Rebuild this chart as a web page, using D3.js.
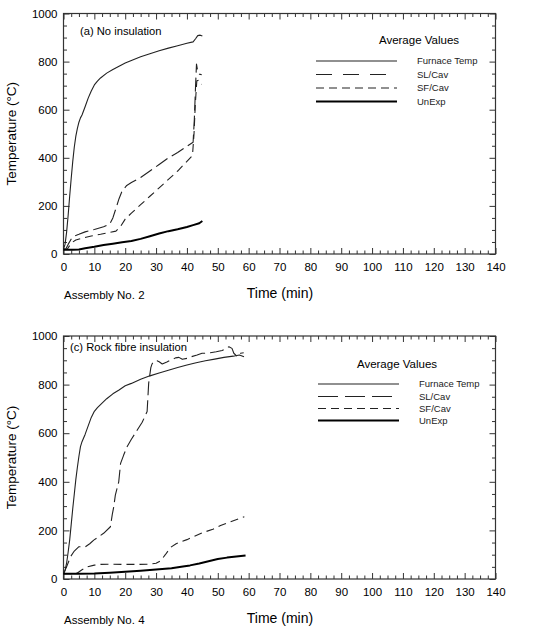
<!DOCTYPE html>
<html>
<head>
<meta charset="utf-8">
<script src="https://cdn.jsdelivr.net/npm/d3@7"></script>
<style>
  html, body { margin: 0; padding: 0; background: #fff; }
  svg { display: block; font-family: "Liberation Sans", Arial, sans-serif; }
</style>
</head>
<body>
<svg id="chart" width="540" height="636"></svg>
<script>
// ---------- DATA ----------
const xTickValues = [0, 10, 20, 30, 40, 50, 60, 70, 80, 90, 100, 110, 120, 130, 140];
const yTickValues = [0, 200, 400, 600, 800, 1000];
const seriesNames = ["Furnace Temp", "SL/Cav", "SF/Cav", "UnExp"];

// Panel (a) No insulation — [time (min), temperature (°C)]
const furnaceA = [[0,20],[0.5,40],[1,90],[1.5,160],[2,240],[2.5,315],[3,385],[3.5,445],[4,490],[4.5,522],[5,548],[5.5,566],[6,578],[7,612],[8,648],[9,678],[10,703],[11,719],[12,732],[14,752],[16,767],[18,781],[20,794],[22,805],[25,820],[28,833],[31,845],[34,856],[37,866],[40,876],[42,882],[42.8,895],[43.5,908],[44.3,910],[45,906]];
const slCavA = [[0,20],[0.7,20],[1.5,40],[2.5,62],[3.5,75],[5,82],[7,92],[10,102],[13,113],[15,125],[16,150],[17,190],[18,230],[19,262],[20.5,285],[22,297],[25,318],[28,345],[31,372],[34,400],[37,422],[40,448],[42,465],[42.4,560],[42.8,700],[43.1,790],[43.5,760],[44,748],[44.8,745]];
const sfCavA = [[0,20],[1.2,20],[2,35],[3,50],[4,58],[6,66],[9,75],[12,82],[15,90],[17,95],[18.5,115],[20,145],[22,170],[25,205],[28,240],[31,275],[34,310],[37,345],[40,385],[41.8,410],[42.3,500],[42.7,620],[43.2,720],[43.8,722],[44.3,712],[44.8,705]];
const unExpA = [[0,18],[3,18],[5,19],[7,24],[10,30],[13,37],[16,43],[19,49],[22,54],[25,63],[28,74],[31,85],[34,95],[37,103],[40,112],[42,120],[44,128],[45,137]];

// Panel (c) Rock fibre insulation
const furnaceC = [[0,22],[0.5,35],[1,65],[1.5,110],[2,160],[2.5,225],[3,290],[3.5,350],[4,410],[4.5,460],[5,505],[5.5,545],[6,565],[7,595],[8,630],[9,665],[10,690],[11,705],[12,718],[14,742],[16,762],[18,778],[20,795],[22,805],[25,822],[28,836],[31,848],[34,859],[37,870],[40,881],[43,890],[46,898],[49,905],[52,912],[55,917],[57,922],[58.5,915]];
const slCavC = [[0,22],[1,50],[2.3,92],[3.5,115],[5,133],[7.1,133],[8.5,145],[9.8,160],[11.5,175],[13,188],[15.2,215],[15.8,265],[16.3,298],[16.8,345],[17.9,400],[18.5,476],[19.5,510],[20.6,544],[22,575],[23.9,613],[25.5,645],[27.1,689],[27.6,805],[28.3,870],[28.7,885],[29.3,896],[30.3,898],[31,894],[32,885],[33.5,893],[34.7,901],[35.5,905],[36.3,910],[37.4,912],[38.5,904],[40.1,908],[41.5,915],[43.3,922],[44.9,929],[46.6,929],[47.6,931],[49.5,935],[51.4,940],[53,950],[53.6,956],[54.6,949],[55.2,929],[56.3,915],[57.4,929],[58.4,931]];
const sfCavC = [[0,22],[3,22],[4.5,25],[6,38],[7.7,50],[10,57],[12,60],[16,61],[20,60],[24,60],[28,61],[30,65],[31.5,75],[33,100],[34.7,130],[36.5,145],[38.5,155],[40,162],[42.2,174],[45,190],[48.4,205],[50.9,220],[54,235],[58.6,256]];
const unExpC = [[0,22],[5,22],[10,23],[15,26],[20,30],[25,34],[30,39],[35,44],[38.7,51],[41,56],[44,64],[47,73],[50,82],[53,88],[56,93],[59,97]];

// ---------- DRAW ----------
const svg = d3.select("#chart");
const FONT = "'Liberation Sans', Arial, sans-serif";

const styles = {
  "Furnace Temp": { width: 1.1, dash: null, color: "#222" },
  "SL/Cav": { width: 1.1, dash: "14,5", color: "#222" },
  "SF/Cav": { width: 1.1, dash: "8,5", color: "#222" },
  "UnExp": { width: 2, dash: null, color: "#000" }
};

function panel(cfg) {
  const x = d3.scaleLinear().domain([0, 140]).range([cfg.left, cfg.right]);
  const y = d3.scaleLinear().domain([0, 1000]).range([cfg.bottom, cfg.top]);
  const g = svg.append("g");

  const minorX = d3.range(0, 140.01, 2.5).filter(v => v % 10 !== 0);
  const minorY = d3.range(0, 1000.1, 50).filter(v => v % 200 !== 0);

  // bottom axis
  const gb = g.append("g").attr("transform", `translate(0,${cfg.bottom})`);
  gb.call(d3.axisBottom(x).tickValues(xTickValues).tickSize(-6).tickPadding(9).tickFormat(d3.format("d")));
  gb.append("g").call(d3.axisBottom(x).tickValues(minorX).tickSize(-3.5).tickFormat(""));
  // top axis
  const gt = g.append("g").attr("transform", `translate(0,${cfg.top})`);
  gt.call(d3.axisTop(x).tickValues(xTickValues).tickSize(-6).tickFormat(""));
  gt.append("g").call(d3.axisTop(x).tickValues(minorX).tickSize(-3.5).tickFormat(""));
  // left axis
  const gl = g.append("g").attr("transform", `translate(${cfg.left},0)`);
  gl.call(d3.axisLeft(y).tickValues(yTickValues).tickSize(-6).tickPadding(6).tickFormat(d3.format("d")));
  gl.append("g").call(d3.axisLeft(y).tickValues(minorY).tickSize(-3.5).tickFormat(""));
  // right axis
  const gr = g.append("g").attr("transform", `translate(${cfg.right},0)`);
  gr.call(d3.axisRight(y).tickValues(yTickValues).tickSize(-6).tickFormat(""));
  gr.append("g").call(d3.axisRight(y).tickValues(minorY).tickSize(-3.5).tickFormat(""));

  g.selectAll(".domain").remove();
  g.selectAll(".tick line").attr("stroke", "#333").attr("stroke-width", 1);
  g.selectAll(".tick text").attr("font-family", FONT).attr("font-size", "11.5px").attr("fill", "#000");

  // frame
  g.append("rect")
    .attr("x", cfg.left).attr("y", cfg.top)
    .attr("width", cfg.right - cfg.left).attr("height", cfg.bottom - cfg.top)
    .attr("fill", "none").attr("stroke", "#333").attr("stroke-width", 1.2);

  // series
  const line = d3.line().x(d => x(d[0])).y(d => y(d[1])).curve(d3.curveLinear);
  cfg.series.forEach((data, i) => {
    const s = styles[seriesNames[i]];
    g.append("path").datum(data)
      .attr("d", line)
      .attr("fill", "none")
      .attr("stroke", s.color)
      .attr("stroke-width", s.width)
      .attr("stroke-dasharray", s.dash)
      .attr("stroke-linejoin", "round");
  });

  // annotation
  g.append("text").attr("x", cfg.annX).attr("y", cfg.annY)
    .attr("font-family", FONT).attr("font-size", "11.2px").text(cfg.annotation);

  // y title
  g.append("text")
    .attr("transform", `translate(${cfg.yTitleX},${(cfg.top + cfg.bottom) / 2}) rotate(-90)`)
    .attr("text-anchor", "middle")
    .attr("font-family", FONT).attr("font-size", "13.5px")
    .text("Temperature (°C)");

  // x title & assembly
  g.append("text").attr("x", 280).attr("y", cfg.bottom + 44)
    .attr("text-anchor", "middle")
    .attr("font-family", FONT).attr("font-size", "14px").text("Time (min)");
  g.append("text").attr("x", 64).attr("y", cfg.bottom + 45)
    .attr("font-family", FONT).attr("font-size", "11.5px").text(cfg.assembly);

  // legend
  const L = cfg.legend;
  g.append("text").attr("x", L.titleX).attr("y", L.titleY)
    .attr("text-anchor", "middle")
    .attr("font-family", FONT).attr("font-size", "11.5px").text("Average Values");
  seriesNames.forEach((name, i) => {
    const s = styles[name];
    const yy = L.rows[i];
    g.append("line")
      .attr("x1", L.x1).attr("x2", L.x2).attr("y1", yy).attr("y2", yy)
      .attr("stroke", s.color).attr("stroke-width", s.width)
      .attr("stroke-dasharray", L.dash[i]);
    g.append("text").attr("x", L.labelX).attr("y", yy)
      .attr("dy", "0.35em")
      .attr("font-family", FONT).attr("font-size", "9.5px").attr("fill", "#222").text(name);
  });
}

panel({
  left: 63.5, right: 495.5, top: 13.5, bottom: 254,
  series: [furnaceA, slCavA, sfCavA, unExpA],
  annotation: "(a) No insulation", annX: 80, annY: 35,
  assembly: "Assembly No. 2", yTitleX: 16,
  legend: { titleX: 419, titleY: 44, x1: 316, x2: 397, labelX: 417,
            rows: [61, 74.5, 88, 101.5], dash: [null, "16,11", "8,5", null] }
});

panel({
  left: 63.5, right: 495.5, top: 336, bottom: 579,
  series: [furnaceC, slCavC, sfCavC, unExpC],
  annotation: "(c) Rock fibre insulation", annX: 70, annY: 351,
  assembly: "Assembly No. 4", yTitleX: 16,
  legend: { titleX: 397, titleY: 368, x1: 318, x2: 399, labelX: 419,
            rows: [384, 396.5, 408.5, 420.5], dash: [null, "20,7", "8,5", null] }
});
</script>
</body>
</html>
